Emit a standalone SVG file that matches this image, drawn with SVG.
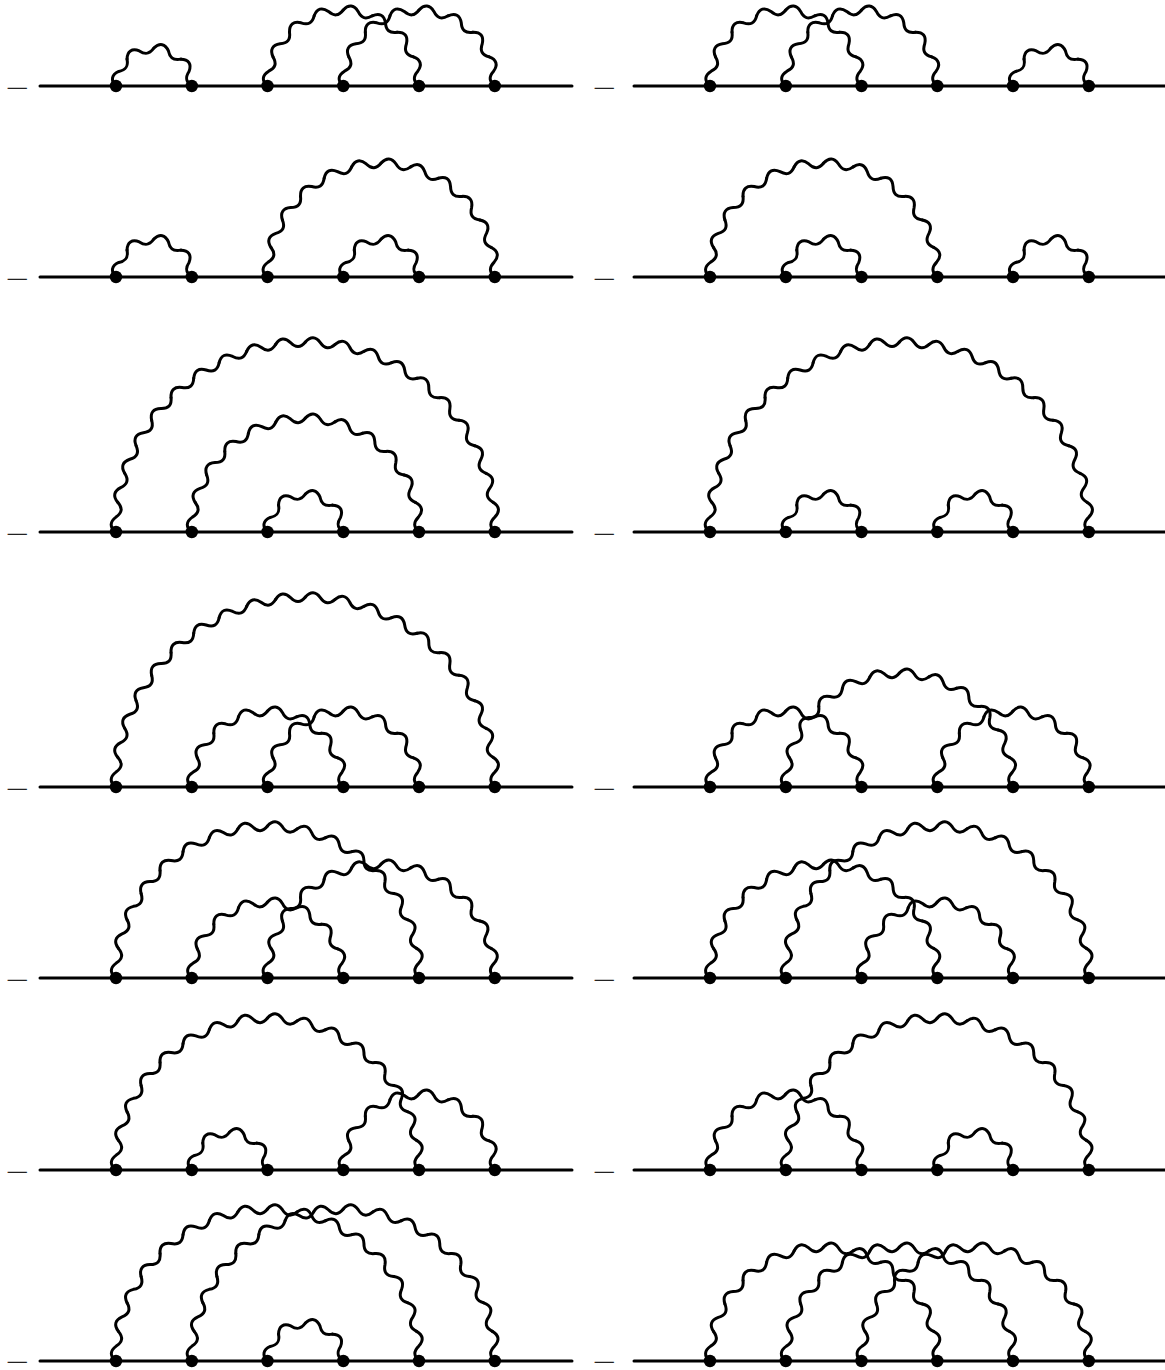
<svg xmlns="http://www.w3.org/2000/svg" width="1165" height="1370" viewBox="0 0 1165 1370">
<style>
.w{fill:none;stroke:#000;stroke-width:3;stroke-linecap:round;stroke-linejoin:round}
.b{stroke:#000;stroke-width:3;stroke-linecap:round;fill:none}
.n circle{fill:#000}
.m{font-family:"Liberation Serif",serif;font-size:14px;font-weight:bold;fill:#222;stroke:#222;stroke-width:.3}
</style>
<defs>
<path id="w190" d="M-190 0C-195.8 -5.12 -195.6 -10.25 -189.41 -14.91C-183.12 -19.24 -182.55 -24.04 -187.66 -29.72"/>
<path id="w152" d="M-152 0C-157.79 -5.17 -157.53 -10.33 -151.27 -14.9C-144.87 -19.07 -144.18 -23.8 -149.08 -29.65"/>
<path id="w114" d="M-114 0C-119.76 -5.23 -119.42 -10.45 -113.02 -14.88C-106.49 -18.78 -105.56 -23.4 -110.12 -29.51"/>
<path id="w76" d="M-76 0C-81.7 -5.36 -81.17 -10.69 -74.54 -14.83C-67.74 -18.15 -66.41 -22.55 -70.21 -29.08"/>
<path id="w38" d="M-38 0C-43.5 -5.73 -42.37 -11.35 -35.11 -14.54C-27.82 -16.07 -25.49 -19.56 -26.87 -26.87"/>
<g id="a38"><use href="#w38"/><use href="#w38" transform="rotate(45)"/><use href="#w38" transform="rotate(90)"/><use href="#w38" transform="rotate(135)"/></g>
<g id="a76"><use href="#w76"/><use href="#w76" transform="rotate(22.5)"/><use href="#w76" transform="rotate(45)"/><use href="#w76" transform="rotate(67.5)"/><use href="#w76" transform="rotate(90)"/><use href="#w76" transform="rotate(112.5)"/><use href="#w76" transform="rotate(135)"/><use href="#w76" transform="rotate(157.5)"/></g>
<g id="a114"><use href="#w114"/><use href="#w114" transform="rotate(15)"/><use href="#w114" transform="rotate(30)"/><use href="#w114" transform="rotate(45)"/><use href="#w114" transform="rotate(60)"/><use href="#w114" transform="rotate(75)"/><use href="#w114" transform="rotate(90)"/><use href="#w114" transform="rotate(105)"/><use href="#w114" transform="rotate(120)"/><use href="#w114" transform="rotate(135)"/><use href="#w114" transform="rotate(150)"/><use href="#w114" transform="rotate(165)"/></g>
<g id="a152"><use href="#w152"/><use href="#w152" transform="rotate(11.25)"/><use href="#w152" transform="rotate(22.5)"/><use href="#w152" transform="rotate(33.75)"/><use href="#w152" transform="rotate(45)"/><use href="#w152" transform="rotate(56.25)"/><use href="#w152" transform="rotate(67.5)"/><use href="#w152" transform="rotate(78.75)"/><use href="#w152" transform="rotate(90)"/><use href="#w152" transform="rotate(101.25)"/><use href="#w152" transform="rotate(112.5)"/><use href="#w152" transform="rotate(123.75)"/><use href="#w152" transform="rotate(135)"/><use href="#w152" transform="rotate(146.25)"/><use href="#w152" transform="rotate(157.5)"/><use href="#w152" transform="rotate(168.75)"/></g>
<g id="a190"><use href="#w190"/><use href="#w190" transform="rotate(9)"/><use href="#w190" transform="rotate(18)"/><use href="#w190" transform="rotate(27)"/><use href="#w190" transform="rotate(36)"/><use href="#w190" transform="rotate(45)"/><use href="#w190" transform="rotate(54)"/><use href="#w190" transform="rotate(63)"/><use href="#w190" transform="rotate(72)"/><use href="#w190" transform="rotate(81)"/><use href="#w190" transform="rotate(90)"/><use href="#w190" transform="rotate(99)"/><use href="#w190" transform="rotate(108)"/><use href="#w190" transform="rotate(117)"/><use href="#w190" transform="rotate(126)"/><use href="#w190" transform="rotate(135)"/><use href="#w190" transform="rotate(144)"/><use href="#w190" transform="rotate(153)"/><use href="#w190" transform="rotate(162)"/><use href="#w190" transform="rotate(171)"/></g>
</defs>
<g id="connectors">
<g id="lines" class="b">
<path d="M40 86H572M40 277H572M40 532H572M40 787H572M40 978H572M40 1170H572M40 1361H572"/>
<path d="M634 86H1165M634 277H1165M634 532H1165M634 787H1165M634 978H1165M634 1170H1165M634 1361H1165"/>
</g>
<g id="waves" class="w">
<use href="#a38" transform="translate(153.9 86)"/><use href="#a76" transform="translate(343.25 86)"/><use href="#a76" transform="translate(419.05 86)"/>
<use href="#a76" transform="translate(785.75 86)"/><use href="#a76" transform="translate(861.55 86)"/><use href="#a38" transform="translate(1050.9 86)"/>
<use href="#a38" transform="translate(153.9 277)"/><use href="#a114" transform="translate(381.15 277)"/><use href="#a38" transform="translate(381.15 277)"/>
<use href="#a114" transform="translate(823.65 277)"/><use href="#a38" transform="translate(823.65 277)"/><use href="#a38" transform="translate(1050.9 277)"/>
<use href="#a190" transform="translate(305.4 532)"/><use href="#a114" transform="translate(305.4 532)"/><use href="#a38" transform="translate(305.4 532)"/>
<use href="#a190" transform="translate(899.4 532)"/><use href="#a38" transform="translate(823.65 532)"/><use href="#a38" transform="translate(975.15 532)"/>
<use href="#a190" transform="translate(305.4 787)"/><use href="#a76" transform="translate(267.55 787)"/><use href="#a76" transform="translate(343.25 787)"/>
<use href="#a76" transform="translate(785.75 787)"/><use href="#a114" transform="translate(899.4 787)"/><use href="#a76" transform="translate(1013.05 787)"/>
<use href="#a152" transform="translate(267.5 978)"/><use href="#a76" transform="translate(267.55 978)"/><use href="#a114" transform="translate(381.15 978)"/>
<use href="#a114" transform="translate(823.65 978)"/><use href="#a152" transform="translate(937.3 978)"/><use href="#a76" transform="translate(937.25 978)"/>
<use href="#a152" transform="translate(267.5 1170)"/><use href="#a38" transform="translate(229.65 1170)"/><use href="#a76" transform="translate(419.05 1170)"/>
<use href="#a76" transform="translate(785.75 1170)"/><use href="#a152" transform="translate(937.3 1170)"/><use href="#a38" transform="translate(975.15 1170)"/>
<use href="#a152" transform="translate(267.5 1361)"/><use href="#a152" transform="translate(343.3 1361)"/><use href="#a38" transform="translate(305.4 1361)"/>
<use href="#a114" transform="translate(823.65 1361)"/><use href="#a114" transform="translate(899.4 1361)"/><use href="#a114" transform="translate(975.15 1361)"/>
</g>
</g>
<g id="labels" class="m">
<text x="6.5" y="92.5" textLength="22.5" lengthAdjust="spacingAndGlyphs">−</text><text x="6.5" y="283.5" textLength="22.5" lengthAdjust="spacingAndGlyphs">−</text><text x="6.5" y="538.5" textLength="22.5" lengthAdjust="spacingAndGlyphs">−</text><text x="6.5" y="793.5" textLength="22.5" lengthAdjust="spacingAndGlyphs">−</text><text x="6.5" y="984.5" textLength="22.5" lengthAdjust="spacingAndGlyphs">−</text><text x="6.5" y="1176.5" textLength="22.5" lengthAdjust="spacingAndGlyphs">−</text><text x="6.5" y="1367" textLength="22.5" lengthAdjust="spacingAndGlyphs">−</text>
<text x="593.5" y="92.5" textLength="22.5" lengthAdjust="spacingAndGlyphs">−</text><text x="593.5" y="283.5" textLength="22.5" lengthAdjust="spacingAndGlyphs">−</text><text x="593.5" y="538.5" textLength="22.5" lengthAdjust="spacingAndGlyphs">−</text><text x="593.5" y="793.5" textLength="22.5" lengthAdjust="spacingAndGlyphs">−</text><text x="593.5" y="984.5" textLength="22.5" lengthAdjust="spacingAndGlyphs">−</text><text x="593.5" y="1176.5" textLength="22.5" lengthAdjust="spacingAndGlyphs">−</text><text x="593.5" y="1367" textLength="22.5" lengthAdjust="spacingAndGlyphs">−</text>
</g>
<g id="nodes">
<g id="r1" class="n"><circle r="6.2" cy="86" cx="116"/><circle r="6.2" cy="86" cx="191.8"/><circle r="6.2" cy="86" cx="267.5"/><circle r="6.2" cy="86" cx="343.3"/><circle r="6.2" cy="86" cx="419"/><circle r="6.2" cy="86" cx="494.8"/><circle r="6.2" cy="86" cx="710"/><circle r="6.2" cy="86" cx="785.8"/><circle r="6.2" cy="86" cx="861.5"/><circle r="6.2" cy="86" cx="937.3"/><circle r="6.2" cy="86" cx="1013"/><circle r="6.2" cy="86" cx="1088.8"/></g>
<g id="r2" class="n"><circle r="6.2" cy="277" cx="116"/><circle r="6.2" cy="277" cx="191.8"/><circle r="6.2" cy="277" cx="267.5"/><circle r="6.2" cy="277" cx="343.3"/><circle r="6.2" cy="277" cx="419"/><circle r="6.2" cy="277" cx="494.8"/><circle r="6.2" cy="277" cx="710"/><circle r="6.2" cy="277" cx="785.8"/><circle r="6.2" cy="277" cx="861.5"/><circle r="6.2" cy="277" cx="937.3"/><circle r="6.2" cy="277" cx="1013"/><circle r="6.2" cy="277" cx="1088.8"/></g>
<g id="r3" class="n"><circle r="6.2" cy="532" cx="116"/><circle r="6.2" cy="532" cx="191.8"/><circle r="6.2" cy="532" cx="267.5"/><circle r="6.2" cy="532" cx="343.3"/><circle r="6.2" cy="532" cx="419"/><circle r="6.2" cy="532" cx="494.8"/><circle r="6.2" cy="532" cx="710"/><circle r="6.2" cy="532" cx="785.8"/><circle r="6.2" cy="532" cx="861.5"/><circle r="6.2" cy="532" cx="937.3"/><circle r="6.2" cy="532" cx="1013"/><circle r="6.2" cy="532" cx="1088.8"/></g>
<g id="r4" class="n"><circle r="6.2" cy="787" cx="116"/><circle r="6.2" cy="787" cx="191.8"/><circle r="6.2" cy="787" cx="267.5"/><circle r="6.2" cy="787" cx="343.3"/><circle r="6.2" cy="787" cx="419"/><circle r="6.2" cy="787" cx="494.8"/><circle r="6.2" cy="787" cx="710"/><circle r="6.2" cy="787" cx="785.8"/><circle r="6.2" cy="787" cx="861.5"/><circle r="6.2" cy="787" cx="937.3"/><circle r="6.2" cy="787" cx="1013"/><circle r="6.2" cy="787" cx="1088.8"/></g>
<g id="r5" class="n"><circle r="6.2" cy="978" cx="116"/><circle r="6.2" cy="978" cx="191.8"/><circle r="6.2" cy="978" cx="267.5"/><circle r="6.2" cy="978" cx="343.3"/><circle r="6.2" cy="978" cx="419"/><circle r="6.2" cy="978" cx="494.8"/><circle r="6.2" cy="978" cx="710"/><circle r="6.2" cy="978" cx="785.8"/><circle r="6.2" cy="978" cx="861.5"/><circle r="6.2" cy="978" cx="937.3"/><circle r="6.2" cy="978" cx="1013"/><circle r="6.2" cy="978" cx="1088.8"/></g>
<g id="r6" class="n"><circle r="6.2" cy="1170" cx="116"/><circle r="6.2" cy="1170" cx="191.8"/><circle r="6.2" cy="1170" cx="267.5"/><circle r="6.2" cy="1170" cx="343.3"/><circle r="6.2" cy="1170" cx="419"/><circle r="6.2" cy="1170" cx="494.8"/><circle r="6.2" cy="1170" cx="710"/><circle r="6.2" cy="1170" cx="785.8"/><circle r="6.2" cy="1170" cx="861.5"/><circle r="6.2" cy="1170" cx="937.3"/><circle r="6.2" cy="1170" cx="1013"/><circle r="6.2" cy="1170" cx="1088.8"/></g>
<g id="r7" class="n"><circle r="6.2" cy="1361" cx="116"/><circle r="6.2" cy="1361" cx="191.8"/><circle r="6.2" cy="1361" cx="267.5"/><circle r="6.2" cy="1361" cx="343.3"/><circle r="6.2" cy="1361" cx="419"/><circle r="6.2" cy="1361" cx="494.8"/><circle r="6.2" cy="1361" cx="710"/><circle r="6.2" cy="1361" cx="785.8"/><circle r="6.2" cy="1361" cx="861.5"/><circle r="6.2" cy="1361" cx="937.3"/><circle r="6.2" cy="1361" cx="1013"/><circle r="6.2" cy="1361" cx="1088.8"/></g>
</g>
</svg>
